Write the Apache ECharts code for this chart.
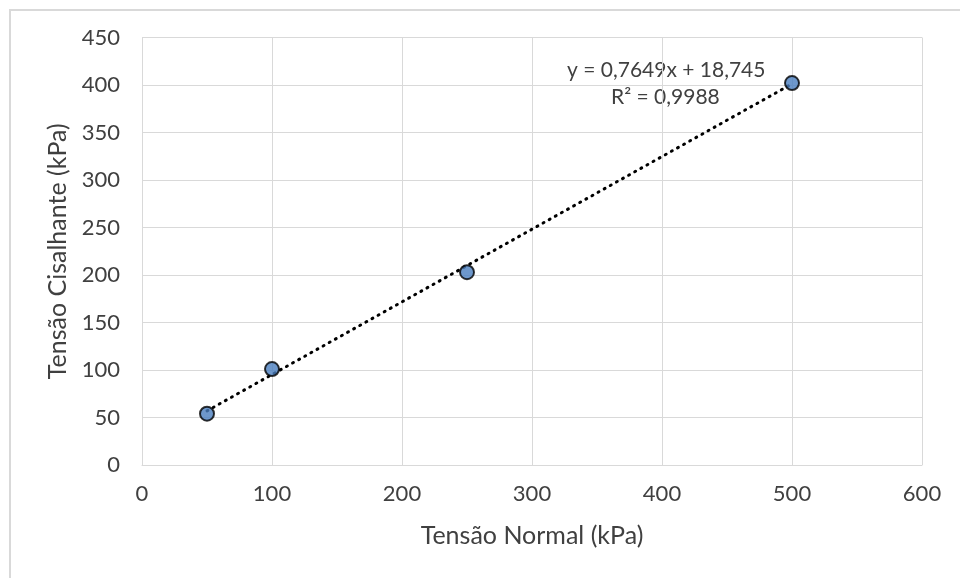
<!DOCTYPE html>
<html>
<head>
<meta charset="utf-8">
<script src="https://cdn.jsdelivr.net/npm/echarts@6/dist/echarts.min.js"></script>
<style>
html,body{margin:0;padding:0;background:#fff;}
#frame{position:absolute;left:9px;top:9px;width:1000px;height:1000px;border-left:2px solid #d9d9d9;border-top:2px solid #d9d9d9;box-sizing:border-box;}
#c{position:absolute;left:0;top:0;width:960px;height:578px;}
</style>
</head>
<body>
<div id="frame"></div>
<div id="c"></div>
<script>
const normalStress = [50, 100, 250, 500];
const shearStress = [54, 101, 203, 402];
const trendX = [50, 500];
const trendY = [56.99, 401.2];
const xTicks = [0, 100, 200, 300, 400, 500, 600];
const yTicks = [0, 50, 100, 150, 200, 250, 300, 350, 400, 450];
const equationText = 'y = 0,7649x + 18,745';
const r2Text = 'R² = 0,9988';

const font = 'Lato, "Open Sans", sans-serif';
const chart = echarts.init(document.getElementById('c'));
chart.setOption({
  animation: false,
  backgroundColor: 'transparent',
  grid: {left: 142, right: 38, top: 37.5, bottom: 113},
  xAxis: {
    type: 'value', min: xTicks[0], max: xTicks[xTicks.length-1], interval: 100,
    name: 'Tensão Normal (kPa)', nameLocation: 'middle', nameGap: 58,
    nameTextStyle: {fontFamily: font, fontSize: 25, color: '#404040'},
    axisLine: {show: true, lineStyle: {color: '#d9d9d9', width: 1}},
    axisTick: {show: false},
    axisLabel: {fontFamily: font, fontSize: 22, color: '#404040', margin: 18},
    splitLine: {show: true, lineStyle: {color: '#d9d9d9', width: 1}}
  },
  yAxis: {
    type: 'value', min: yTicks[0], max: yTicks[yTicks.length-1], interval: 50,
    name: 'Tensão Cisalhante (kPa)', nameLocation: 'middle', nameGap: 71,
    nameTextStyle: {fontFamily: font, fontSize: 25, color: '#404040'},
    axisLine: {show: true, lineStyle: {color: '#d9d9d9', width: 1}},
    axisTick: {show: false},
    axisLabel: {fontFamily: font, fontSize: 22, color: '#404040', margin: 22},
    splitLine: {show: true, lineStyle: {color: '#d9d9d9', width: 1}}
  },
  series: [
    {
      type: 'line',
      data: trendX.map((x, i) => [x, trendY[i]]),
      symbol: 'none',
      lineStyle: {color: '#000', width: 3, type: [1, 6], cap: 'round'},
      z: 2
    },
    {
      type: 'scatter',
      data: normalStress.map((x, i) => [x, shearStress[i]]),
      symbol: 'circle',
      symbolSize: 14,
      itemStyle: {color: '#4a7ebf', borderColor: '#000', borderWidth: 2},
      z: 3
    }
  ],
  graphic: [
    {type: 'text', left: 567, top: 60, style: {text: equationText, font: '21px ' + font, fill: '#404040'}},
    {type: 'text', left: 611, top: 87, style: {text: r2Text, font: '21px ' + font, fill: '#404040'}}
  ]
});
</script>
</body>
</html>
